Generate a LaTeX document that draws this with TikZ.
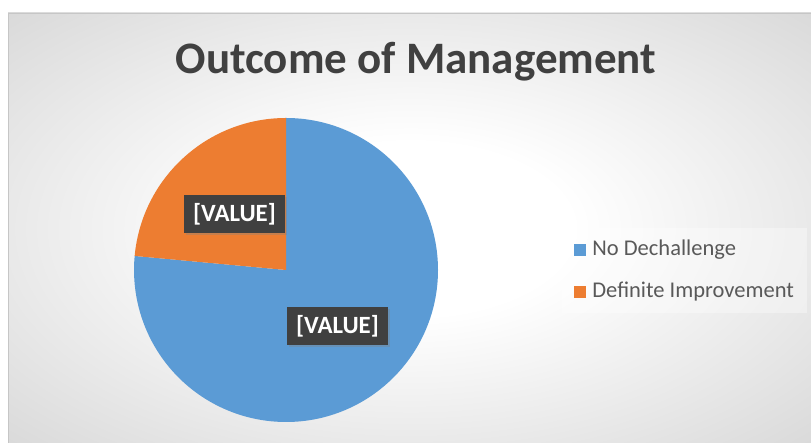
\documentclass[tikz,border=0pt]{standalone}
\usepackage{fontspec}
\setmainfont{Carlito}
\usetikzlibrary{shadows,positioning}
\definecolor{pieblue}{RGB}{91,155,213}
\definecolor{pieorange}{RGB}{237,125,49}
\definecolor{boxdark}{RGB}{64,64,64}
\definecolor{txtgray}{RGB}{89,89,89}
\definecolor{bggray}{RGB}{196,196,196}
\pgfdeclareradialshading{chartbg}{\pgfpoint{0bp}{0bp}}{color(0bp)=(white); color(10bp)=(white); color(50bp)=(bggray); color(75bp)=(bggray)}
\tikzset{
  valbox/.style={fill=boxdark, text=white, font=\bfseries\fontsize{24.8}{28}\selectfont,
    minimum width=101pt, minimum height=38pt, inner sep=0pt,
    drop shadow={shadow xshift=2pt, shadow yshift=-2pt, opacity=0.35}},
  legkey/.style={minimum size=12pt, inner sep=0pt},
  legtext/.style={text=txtgray, font=\fontsize{22.5}{25}\selectfont, inner sep=0pt}
}

\begin{document}
\begin{tikzpicture}[x=1pt,y=1pt]
\useasboundingbox (0,0) rectangle (811,443);
\fill [white] (0,0) rectangle (811,443);
\shade [shading=chartbg, draw=gray!45] (8,-2) rectangle (813,430);
% title
\node [font=\bfseries\fontsize{45}{50}\selectfont, text=boxdark, anchor=base] (title) at (416,369) {Outcome of Management};
% pie
\coordinate (o) at (286,173);
\fill [pieblue] (o) -- ++(90:152) arc (90:-185.3:152) -- cycle;
\fill [pieorange] (o) -- ++(90:152) arc (90:174.7:152) -- cycle;
\node [valbox] (valOrange) at (234.5,229) {[VALUE]};
\node [valbox] (valBlue) at (337.5,117) {[VALUE]};
% legend
\fill [white, opacity=0.35] (562,130) rectangle (807,215);
\node [legkey, fill=pieblue] (keyBlue) at (580,193) {};
\node [legtext, right=6pt of keyBlue] (txtBlue) {No Dechallenge};
\node [legkey, fill=pieorange] (keyOrange) at (580,151) {};
\node [legtext, right=6pt of keyOrange] (txtOrange) {Definite Improvement};
\end{tikzpicture}
\end{document}
